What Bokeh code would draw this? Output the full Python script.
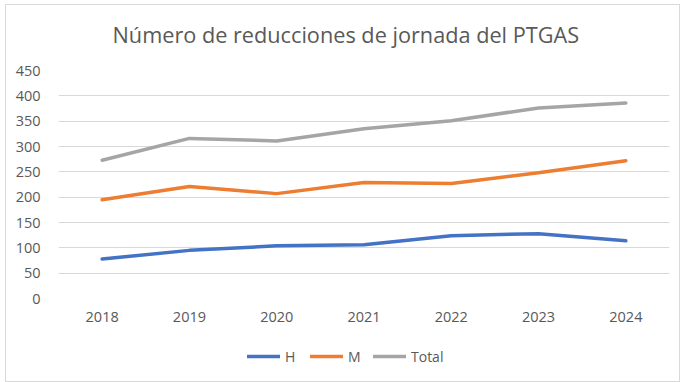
from bokeh.plotting import figure
from bokeh.models import Range1d, FactorRange, FixedTicker, Legend, LegendItem, Spacer, Label
from bokeh.layouts import column, row
from bokeh.embed import file_html
from bokeh.resources import INLINE

years = ["2018", "2019", "2020", "2021", "2022", "2023", "2024"]
h_vals = [78, 95, 104, 106, 124, 128, 114]
m_vals = [195, 221, 207, 229, 227, 248, 272]
total_vals = [273, 316, 311, 335, 351, 376, 386]
y_ticks = [0, 50, 100, 150, 200, 250, 300, 350, 400, 450]
title_text = "Número de reducciones de jornada del PTGAS"
series = [("H", h_vals, "#4472C4"), ("M", m_vals, "#ED7D31"), ("Total", total_vals, "#A5A5A5")]

FONT = "Open Sans"
TXT = "#595959"
BORDER = "1px solid #d9d9d9"


def strip(height, styles):
    f = figure(width=675, height=height, x_range=FactorRange(factors=years),
               y_range=Range1d(0, 450), output_backend="svg", toolbar_location=None,
               x_axis_location=None, y_axis_location=None,
               min_border_left=0, min_border_right=0, min_border_top=0,
               min_border_bottom=0)
    f.styles = styles
    f.outline_line_color = None
    f.grid.grid_line_color = None
    return f


# title strip
tf = strip(56, {"border-top": BORDER, "border-left": BORDER, "border-right": BORDER,
                "box-sizing": "border-box"})
tf.add_layout(Label(x=54, y=27, x_units="screen", y_units="screen", text=title_text,
                    text_font=FONT, text_font_size="21.7px", text_color=TXT,
                    text_align="left", text_baseline="alphabetic"))

# main chart
p = figure(width=675, height=275, x_range=FactorRange(factors=years),
           y_range=Range1d(0, 450), output_backend="svg", toolbar_location=None,
           min_border_left=52, min_border_right=12, min_border_top=10,
           min_border_bottom=37)
p.styles = {"border-left": BORDER, "border-right": BORDER, "box-sizing": "border-box"}
p.outline_line_color = None
p.background_fill_color = "white"
p.border_fill_color = "white"

p.xgrid.grid_line_color = None
p.ygrid.grid_line_color = "#d9d9d9"
p.ygrid.grid_line_width = 1
p.yaxis.ticker = FixedTicker(ticks=y_ticks)

for ax in (p.xaxis[0], p.yaxis[0]):
    ax.axis_line_color = None
    ax.major_tick_line_color = None
    ax.minor_tick_line_color = None
    ax.major_label_text_font = FONT
    ax.major_label_text_font_size = "14.5px"
    ax.major_label_text_color = TXT
p.yaxis.major_label_standoff = 12
p.xaxis.major_label_standoff = 7

for name, vals, col in series:
    p.line(years, vals, line_color=col, line_width=3.5,
           line_cap="round", line_join="round")

# legend strip
lf = strip(47, {"border-bottom": BORDER, "border-left": BORDER, "border-right": BORDER,
                "box-sizing": "border-box"})
items = []
for name, vals, col in series:
    r = lf.line(years, vals, line_color=col, line_width=3.5, line_cap="round",
                visible=False)
    items.append(LegendItem(label=name, renderers=[r]))

legend = Legend(items=items, orientation="horizontal", location=(189, 16),
                margin=0, padding=0, spacing=5, glyph_width=33, glyph_height=20,
                label_standoff=5, label_text_font=FONT, label_text_font_size="14px",
                label_text_color=TXT, border_line_color=None,
                background_fill_alpha=0, inactive_fill_alpha=0)
lf.add_layout(legend, "center")

page = column(Spacer(height=4, width=5),
              row(Spacer(width=5, height=378), column(tf, p, lf)))

open("out.html", "w").write(file_html(page, INLINE))
